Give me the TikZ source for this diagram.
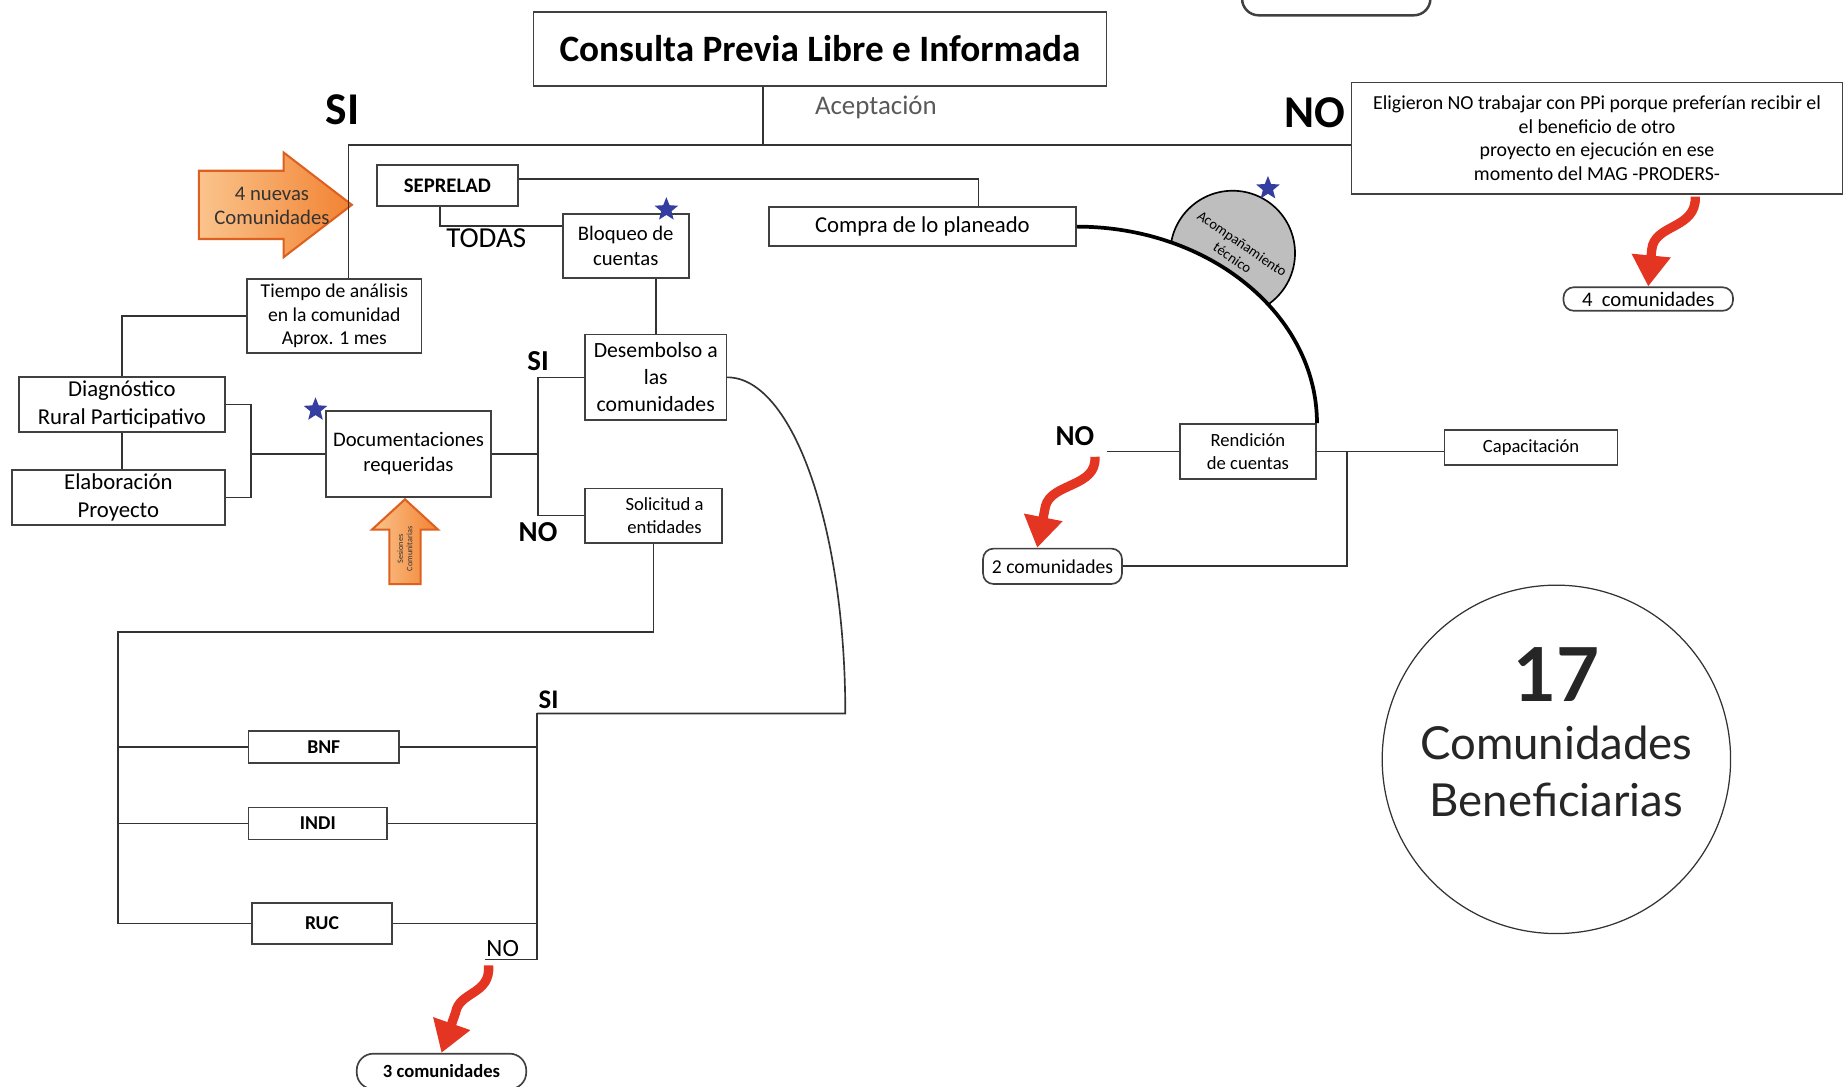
\documentclass[tikz,border=0pt]{standalone}
\usepackage{fontspec}
\setmainfont{Carlito}
\newfontfamily\latofont{Lato}
\usetikzlibrary{positioning}
\usetikzlibrary{arrows.meta}
\usetikzlibrary{shapes.geometric}
\usetikzlibrary{shapes.arrows}

\definecolor{waveRed}{RGB}{228,52,34}
\definecolor{starBlue}{RGB}{52,62,160}
\definecolor{acGray}{RGB}{190,190,190}
\definecolor{arrowLight}{RGB}{250,196,140}
\definecolor{arrowOrange}{RGB}{242,130,50}
\definecolor{arrowEdge}{RGB}{222,96,32}

\begin{document}
\begin{tikzpicture}[
    x=0.02cm, y=-0.02cm,
    box/.style={draw=black!75, line width=0.8pt, align=center, inner sep=1pt, font=\fontsize{10}{12}\selectfont}, % plain boxes
    pill/.style={box, rounded corners=5pt}, % rounded count boxes
    link/.style={black!80, line width=0.8pt}, % connector lines
    tag/.style={font=\bfseries\fontsize{14}{16}\selectfont}, % SI / NO labels
    wave/.style={waveRed, line width=4.5pt, -{Triangle[length=15pt, width=18pt]}}, % red wavy arrows
    bluestar/.style={star, star points=5, star point ratio=2.3, fill=starBlue, inner sep=0pt, minimum size=12pt}, % blue stars
    orangearrow/.style={single arrow, draw=arrowEdge, line width=1pt, left color=arrowLight, right color=arrowOrange, text=black!80} % orange block arrows
]

% Frame
\useasboundingbox (0,0) rectangle (1568,923);

% Top boxes
\node[box, minimum width=9.74cm, minimum height=1.26cm, font=\bfseries\fontsize{18}{20}\selectfont] (title) at (696.5,41.5) {Consulta Previa Libre e Informada};
\node[pill, line width=1.2pt, rounded corners=8pt, minimum width=3.2cm, minimum height=0.8cm] (topcut) at (1135,-7) {};
\node[box, minimum width=8.34cm, minimum height=1.9cm, font=\fontsize{9.6}{11.4}\selectfont] (nobox) at (1356.5,117.5)
    {Eligieron NO trabajar con PPi porque preferían recibir el\\el beneficio de otro\\proyecto en ejecución en ese\\momento del MAG -PRODERS-};
\node[pill, minimum width=2.88cm, minimum height=0.4cm, font=\fontsize{10}{11}\selectfont] (com4) at (1400,254) {4~~comunidades};

% Labels
\node[font=\bfseries\fontsize{22}{24}\selectfont] (siTopTag) at (291,93) {SI};
\node[font=\bfseries\fontsize{22}{24}\selectfont] (noTopTag) at (1117,96) {NO};
\node[font=\fontsize{13}{15}\selectfont, text=black!65] (acept) at (744,91) {Aceptación};

% Middle boxes
\node[box, minimum width=2.4cm, minimum height=0.7cm, font=\bfseries\fontsize{10}{12}\selectfont] (seprelad) at (380,157.5) {SEPRELAD};
\node[box, minimum width=5.22cm, minimum height=0.66cm, font=\fontsize{11}{13}\selectfont] (compra) at (783.5,192.5) {Compra de lo planeado};
\node[box, minimum width=2.14cm, minimum height=1.08cm] (bloqueo) at (531.5,209) {Bloqueo de\\cuentas};
\node[box, minimum width=2.4cm, minimum height=1.46cm, font=\fontsize{10.5}{13}\selectfont] (desemb) at (557,320.5) {Desembolso a\\las\\comunidades};
\node[box, minimum width=2.96cm, minimum height=1.26cm, font=\fontsize{9.5}{11.4}\selectfont] (tiempo) at (284,268.5) {Tiempo de análisis\\en la comunidad\\Aprox. 1 mes};
\node[box, minimum width=3.5cm, minimum height=0.94cm, font=\fontsize{11}{13.5}\selectfont] (diag) at (103.5,343.5) {Diagnóstico\\Rural Participativo};
\node[box, minimum width=3.62cm, minimum height=0.94cm, font=\fontsize{11}{13.5}\selectfont] (elab) at (100.5,422.5) {Elaboración\\Proyecto};
\node[box, minimum width=2.8cm, minimum height=1.46cm] (docs) at (347,385.5) {Documentaciones\\requeridas};
\node[box, minimum width=2.32cm, minimum height=0.92cm, font=\fontsize{9}{11}\selectfont] (solic) at (555,438) {\hspace*{1.2em}Solicitud a\\\hspace*{1.2em}entidades};

% Entities
\node[box, minimum width=2.56cm, minimum height=0.54cm, font=\bfseries\fontsize{9.5}{11}\selectfont] (bnf) at (275,634.5) {BNF};
\node[box, minimum width=2.36cm, minimum height=0.54cm, font=\bfseries\fontsize{9.5}{11}\selectfont] (indi) at (270,699.5) {INDI};
\node[box, minimum width=2.38cm, minimum height=0.7cm, font=\bfseries\fontsize{9.5}{11}\selectfont] (ruc) at (273.5,784.5) {RUC};
\node[pill, rounded corners=8pt, minimum width=2.88cm, minimum height=0.6cm, font=\bfseries\fontsize{9}{10}\selectfont] (com3) at (375,910) {3 comunidades};

% Right boxes
\node[box, minimum width=2.32cm, minimum height=0.94cm, font=\fontsize{9}{11}\selectfont] (rend) at (1060,383.5) {Rendición\\de cuentas};
\node[box, minimum width=2.94cm, minimum height=0.6cm, font=\fontsize{9}{11}\selectfont] (capac) at (1300.5,380) {Capacitación};
\node[pill, minimum width=2.36cm, minimum height=0.6cm, font=\fontsize{9.5}{10}\selectfont] (com2) at (894,481) {2 comunidades};

% Total
\node[draw=black!80, line width=0.6pt, circle, minimum size=5.92cm] (total) at (1322,645) {};
\node[align=center, font=\latofont\fontsize{22}{28}\selectfont, text=black!85] (totaltxt) at (1322,622)
    {{\bfseries\fontsize{36}{36}\selectfont 17}\\Comunidades\\Beneficiarias};

% Orange arrows
\node[orangearrow, anchor=tail, minimum height=2.6cm, minimum width=1.76cm, single arrow head extend=0.31cm,
      single arrow tip angle=75, inner xsep=0pt, inner ysep=16pt] (nuevas) at (168,174) {};
\node[align=center, text=black!80, font=\fontsize{10}{11.5}\selectfont] (nuevastxt) at (231,175) {4 nuevas\\Comunidades};
\node[orangearrow, anchor=tail, rotate=90, minimum height=1.44cm, minimum width=1.12cm, single arrow head extend=0.2cm,
      single arrow tip angle=95, inner sep=1pt, align=center, font=\fontsize{4}{4.5}\selectfont]
      (sesiones) at (344,497) {Sesiones\\Comunitarias};

% Top connectors
\coordinate (acc) at (648,123);
\coordinate (siTop) at (296,123);
\draw[link] (title.south -| acc) -- (acc);
\draw[link] (tiempo.north -| siTop) -- (siTop) -- (siTop -| nobox.west);

% SEPRELAD branch
\coordinate (spR) at (831,152);
\coordinate (todasC) at (374,192);
\draw[link] (seprelad.east |- spR) -- (spR) -- (spR |- compra.north);
\draw[link] (seprelad.south -| todasC) -- (todasC) -- (todasC -| bloqueo.west);
\node[font=\fontsize{14}{16}\selectfont] (todas) at (413,202) {TODAS};
\draw[link] (bloqueo.south -| desemb.north) -- (desemb.north);

% Left branch
\coordinate (brk) at (213,385.5);
\draw[link] (tiempo.west) -| (diag.north);
\draw[link] (diag.south) -- (diag.south |- elab.north);
\draw[link] (diag.east) -- (diag.east -| brk) -- (elab.east -| brk) -- (elab.east);
\draw[link] (brk) -- (docs.west);

% SI / NO split after documents
\coordinate (spl) at (457,385.5);
\draw[link] (docs.east) -- (spl);
\draw[link] (desemb.west) -| (spl) |- (solic.west);
\node[tag] (siMid) at (457,307) {SI};
\node[tag] (noMid) at (457,452) {NO};

% Entities loop
\coordinate (lowL) at (100,537);
\coordinate (siR) at (456,606);
\coordinate (siC) at (718,606);
\coordinate (noR) at (456,815);
\coordinate (noL) at (412,815);
\draw[link] (solic.south) |- (lowL) -- (lowL |- ruc.west) -- (ruc.west);
\draw[link] (lowL |- bnf.west) -- (bnf.west);
\draw[link] (lowL |- indi.west) -- (indi.west);
\draw[link] (bnf.east) -- (bnf.east -| siR);
\draw[link] (indi.east) -- (indi.east -| siR);
\draw[link] (ruc.east) -- (ruc.east -| siR);
\draw[link] (siR) -- (noR) -- (noL);
\draw[link] (desemb.east) .. controls +(56,0) and +(0,-157) .. (siC) -- (siR);
\node[font=\bfseries\fontsize{13}{15}\selectfont] (siLow) at (466,594) {SI};
\node[font=\fontsize{12}{14}\selectfont] (noLow) at (427,806) {NO};

% Acompanamiento (dome cut by the arc)
\begin{scope}
\clip (compra.east) arc[start angle=90, end angle=0, x radius=4.08cm, y radius=3.34cm] -- ++(100,0) -- ++(0,-300) -- ++(-304,0) -- cycle;
\draw[fill=acGray, line width=0.8pt] (1047,215) circle[radius=1.06cm];
\end{scope}
\node[rotate=-34.4, align=center, font=\fontsize{7}{8.3}\selectfont] (acomp) at (1051,213) {Acompañamiento\\técnico};
\draw[line width=1.8pt] (compra.east) arc[start angle=90, end angle=0, x radius=4.08cm, y radius=3.34cm];

% Right connectors
\coordinate (noRend) at (940,383.5);
\coordinate (vR) at (1144,383.5);
\draw[link] (noRend) -- (rend.west);
\draw[link] (rend.east) -- (rend.east -| capac.west);
\draw[link] (vR) |- (com2.east);
\node[font=\bfseries\fontsize{14}{16}\selectfont] (noRight) at (913,370) {NO};

% Stars
\node[bluestar] (star1) at (566,178) {};
\node[bluestar] (star2) at (268,348) {};
\node[bluestar] (star3) at (1077,160) {};

% Red wavy arrows
\draw[wave] (1440,167) .. controls (1441,195) and (1405,190) .. (1403,212) -- (com4.north);
\draw[wave] (930,388) .. controls (932,414) and (893,410) .. (888,430) -- (com2.north -| 881,0);
\draw[wave] (415,820) .. controls (417,845) and (390,842) .. (387,860) -- (com3.north);

\end{tikzpicture}
\end{document}
